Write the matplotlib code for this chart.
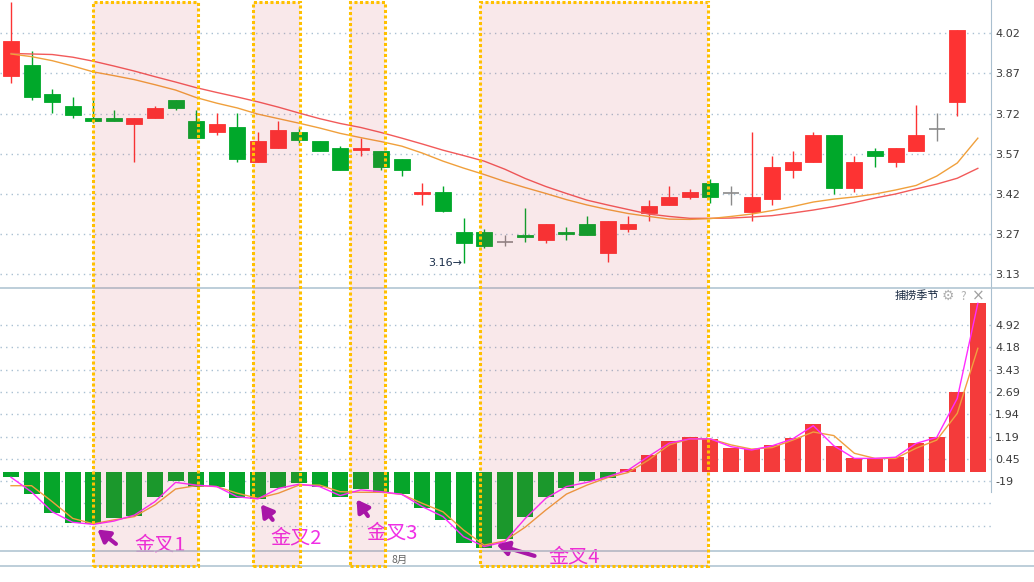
import matplotlib
matplotlib.use("Agg")
import matplotlib.pyplot as plt
import numpy as np
from matplotlib.patches import Rectangle
from matplotlib.lines import Line2D
from matplotlib.transforms import blended_transform_factory

plt.rcParams['font.family'] = ['Noto Sans CJK SC', 'DejaVu Sans']

W, H = 1034, 582
RED, GREEN, GRAY = "#fd3333", "#00a82a", "#8a8a8a"
GRID = "#a9c0d2"

# daily candles
opens = [3.861, 3.901, 3.792, 3.749, 3.702, 3.702, 3.682, 3.703, 3.770, 3.691,
         3.651, 3.669, 3.540, 3.592, 3.650, 3.617, 3.590, 3.583, 3.580, 3.549,
         3.419, 3.427, 3.276, 3.276, 3.238, 3.265, 3.247, 3.276, 3.307, 3.197,
         3.287, 3.349, 3.378, 3.409, 3.459, 3.421, 3.350, 3.399, 3.509, 3.540,
         3.638, 3.440, 3.580, 3.540, 3.581, 3.663, 3.762]
closes = [3.991, 3.782, 3.762, 3.713, 3.693, 3.693, 3.702, 3.739, 3.739, 3.629,
          3.681, 3.550, 3.617, 3.659, 3.620, 3.581, 3.509, 3.590, 3.521, 3.509,
          3.427, 3.356, 3.236, 3.225, 3.238, 3.257, 3.307, 3.269, 3.267, 3.317,
          3.307, 3.375, 3.408, 3.427, 3.409, 3.421, 3.406, 3.519, 3.537, 3.638,
          3.440, 3.537, 3.561, 3.590, 3.638, 3.663, 4.032]
highs = [4.138, 3.954, 3.812, 3.782, 3.770, 3.733, 3.702, 3.749, 3.770, 3.733,
         3.721, 3.721, 3.650, 3.691, 3.671, 3.617, 3.600, 3.629, 3.580, 3.549,
         3.460, 3.449, 3.328, 3.287, 3.265, 3.365, 3.307, 3.297, 3.338, 3.317,
         3.338, 3.396, 3.449, 3.437, 3.475, 3.450, 3.650, 3.561, 3.580, 3.650,
         3.638, 3.561, 3.590, 3.590, 3.751, 3.721, 4.032]
lows = [3.835, 3.772, 3.723, 3.702, 3.683, 3.693, 3.540, 3.703, 3.733, 3.629,
        3.640, 3.540, 3.540, 3.592, 3.602, 3.581, 3.509, 3.562, 3.509, 3.487,
        3.378, 3.350, 3.160, 3.216, 3.225, 3.238, 3.237, 3.247, 3.267, 3.163,
        3.278, 3.318, 3.378, 3.399, 3.386, 3.378, 3.319, 3.378, 3.478, 3.540,
        3.419, 3.427, 3.521, 3.519, 3.581, 3.618, 3.712]

# moving averages (one point more than candles)
ma_slow = [3.945, 3.943, 3.941, 3.931, 3.916, 3.898, 3.879, 3.858, 3.838, 3.817,
           3.799, 3.782, 3.764, 3.744, 3.722, 3.701, 3.683, 3.668, 3.649, 3.628,
           3.606, 3.583, 3.563, 3.542, 3.512, 3.477, 3.447, 3.421, 3.396, 3.378,
           3.361, 3.344, 3.335, 3.328, 3.328, 3.329, 3.333, 3.338, 3.348, 3.359,
           3.372, 3.387, 3.404, 3.419, 3.438, 3.456, 3.478, 3.515]
ma_fast = [3.943, 3.933, 3.918, 3.898, 3.876, 3.862, 3.847, 3.828, 3.808, 3.780,
           3.759, 3.741, 3.718, 3.701, 3.684, 3.666, 3.646, 3.630, 3.615, 3.598,
           3.572, 3.542, 3.516, 3.492, 3.466, 3.443, 3.421, 3.398, 3.378, 3.361,
           3.346, 3.335, 3.325, 3.324, 3.327, 3.335, 3.344, 3.357, 3.372, 3.389,
           3.400, 3.408, 3.419, 3.434, 3.451, 3.486, 3.535, 3.628]

# indicator panel
hist = [-0.14, -0.72, -1.36, -1.69, -1.73, -1.53, -1.44, -0.83, -0.27, -0.47,
        -0.47, -0.84, -0.89, -0.53, -0.36, -0.47, -0.81, -0.55, -0.64, -0.73,
        -1.17, -1.58, -2.34, -2.53, -2.22, -1.49, -0.83, -0.52, -0.27, -0.17,
        0.11, 0.58, 1.05, 1.19, 1.12, 0.83, 0.78, 0.92, 1.14, 1.61,
        0.88, 0.47, 0.47, 0.53, 0.97, 1.17, 2.67, 5.66]
line_fast = [-0.16, -0.65, -1.31, -1.66, -1.73, -1.62, -1.42, -0.97, -0.33, -0.42,
             -0.47, -0.81, -0.88, -0.53, -0.39, -0.47, -0.77, -0.58, -0.64, -0.73,
             -1.14, -1.47, -2.14, -2.47, -2.31, -1.53, -0.86, -0.47, -0.33, -0.14,
             0.08, 0.54, 0.98, 1.12, 1.12, 0.86, 0.75, 0.89, 1.12, 1.56,
             0.89, 0.47, 0.47, 0.51, 0.97, 1.17, 2.47, 5.64]
line_slow = [-0.44, -0.44, -0.97, -1.53, -1.71, -1.58, -1.47, -1.08, -0.55, -0.44,
             -0.47, -0.69, -0.86, -0.69, -0.42, -0.42, -0.64, -0.66, -0.66, -0.73,
             -1.03, -1.31, -1.92, -2.42, -2.28, -1.82, -1.25, -0.72, -0.42, -0.17,
             0.00, 0.42, 0.92, 1.12, 1.12, 0.92, 0.78, 0.83, 1.08, 1.35,
             1.23, 0.64, 0.47, 0.47, 0.81, 1.08, 1.97, 4.14]

price_ticks = [4.02, 3.87, 3.72, 3.57, 3.42, 3.27, 3.12]
price_labels = ["4.02", "3.87", "3.72", "3.57", "3.42", "3.27", "3.13"]
ind_ticks = [4.92, 4.18, 3.43, 2.69, 1.94, 1.19, 0.45, -0.29]
ind_labels = ["4.92", "4.18", "3.43", "2.69", "1.94", "1.19", "0.45", "-19"]
ind_grid_extra = [-1.03, -1.77]

# golden-cross zones (candle index units) and labels
zones = [(4.0, 9.1), (11.76, 14.05), (16.5, 18.2), (22.8, 33.9)]
cross_names = ["金叉1", "金叉2", "金叉3", "金叉4"]
arrow_heads = [(4.2, -1.9), (12.15, -1.06), (16.8, -0.9), (23.6, -2.4)]
arrow_tails = [(5.1, -2.38), (12.72, -1.58), (17.35, -1.45), (25.45, -2.78)]
label_pos = [(7.24, -2.42), (13.86, -2.18), (18.52, -2.02), (27.37, -2.82)]


def fx(px): return px / W
def fy(py): return 1 - py / H


fig = plt.figure(figsize=(W / 100, H / 100), dpi=100)
fig.patch.set_facecolor("white")
ax = fig.add_axes([0, fy(287), fx(991), 287 / H])
axb = fig.add_axes([0, fy(551), fx(991), (551 - 288) / H])
XL = (-0.535, 47.64)
for a in (ax, axb):
    a.set_facecolor("none")
    a.set_xlim(*XL)
    for s in ("top", "left", "bottom"):
        a.spines[s].set_visible(False)
    a.spines["right"].set_color("#a9bfcf")
    a.yaxis.tick_right()
    a.tick_params(axis="y", length=0, pad=3, labelsize=8, labelcolor="#3a3a3a")
    a.set_xticks([])

# --- price panel
ax.set_ylim(3.071, 4.145)
ax.set_yticks(price_ticks)
ax.set_yticklabels(price_labels, family=["DejaVu Sans"])
ax.hlines(price_ticks, XL[0], XL[1], colors=GRID, lw=1, linestyles=(0, (1, 3)), zorder=1)

o = np.array(opens); c = np.array(closes)
idx = np.arange(len(o))
cols = np.where(c > o, RED, np.where(c < o, GREEN, GRAY))
ax.vlines(idx, lows, highs, colors=cols, lw=1, zorder=2)
flat = c == o
body = ~flat
ax.bar(idx[body], np.abs(c - o)[body], bottom=np.minimum(o, c)[body], width=0.78,
       color=cols[body], edgecolor=cols[body], lw=0.6, zorder=3)
ax.hlines(o[flat], idx[flat] - 0.39, idx[flat] + 0.39, colors=GRAY, lw=1.2, zorder=3)

ax.plot(np.arange(len(ma_slow)), ma_slow, color="#f25a5a", lw=1, zorder=4)
ax.plot(np.arange(len(ma_fast)), ma_fast, color="#f0a03c", lw=1, zorder=4)

low_i = int(np.argmin(lows))
ax.text(low_i - 0.08, lows[low_i], f"{lows[low_i]:.2f}→", ha="right", va="center",
        fontsize=8, color="#1a2e4a", family=["DejaVu Sans"])

# --- indicator panel
axb.set_ylim(-2.617, 6.15)
axb.set_yticks(ind_ticks)
axb.set_yticklabels(ind_labels, family=["DejaVu Sans"])
axb.spines["right"].set_bounds(-0.65, 6.15)
axb.hlines(ind_ticks + ind_grid_extra, XL[0], XL[1], colors=GRID, lw=1,
           linestyles=(0, (1, 3)), zorder=1)
hv = np.array(hist)
axb.bar(np.arange(len(hv)), hv, width=0.78,
        color=np.where(hv > 0, "#f43b3b", "#06a52a"), zorder=2)
axb.plot(np.arange(len(line_slow)), line_slow, color="#f0a040", lw=1, zorder=3)
axb.plot(np.arange(len(line_fast)), line_fast, color="#ff2cff", lw=1, zorder=3)

for head, tail in zip(arrow_heads, arrow_tails):
    axb.annotate("", xy=head, xytext=tail, annotation_clip=False,
                 arrowprops=dict(arrowstyle="-|>,head_length=0.7,head_width=0.42",
                                 color="#a414b4", lw=3, shrinkA=0, shrinkB=0))
for name, (lx, ly) in zip(cross_names, label_pos):
    axb.text(lx, ly, name, ha="center", va="center", fontsize=14.5, color="#f02ee6",
             fontweight="medium", clip_on=False, zorder=5)

# --- shaded zones over both panels
tr = blended_transform_factory(ax.transData, fig.transFigure)
for x0, x1 in zones:
    fig.add_artist(Rectangle((x0, fy(566)), x1 - x0, fy(2) - fy(566), transform=tr,
                             facecolor="#cd2f3f", alpha=0.105, edgecolor="none", zorder=2))
    fig.add_artist(Rectangle((x0, fy(566)), x1 - x0, fy(2) - fy(566), transform=tr,
                             fill=False, edgecolor="#ffc000", lw=2.2,
                             linestyle=(0, (1, 0.8)), zorder=3))

# frame lines
for py in (287.5, 551, 566):
    fig.add_artist(Line2D([0, 1], [fy(py), fy(py)], color="#b2c6d3", lw=1.2, zorder=1))

fig.text(fx(895), fy(296), "捕捞季节", fontsize=8, color="#1c2c44", va="center")
fig.text(fx(948), fy(296), "⚙", fontsize=10, color="#b0b0b0", va="center", ha="center",
         family=["DejaVu Sans"])
fig.text(fx(963), fy(296), "?", fontsize=8.5, color="#b0b0b0", va="center", ha="center")
fig.text(fx(978), fy(296), "×", fontsize=11, color="#a0a0a0", va="center", ha="center",
         family=["DejaVu Sans"])
fig.text(fx(400), fy(560), "8月", fontsize=7.5, color="#666666", va="center", ha="center")

fig.savefig("out.png", dpi=100, facecolor="white")
